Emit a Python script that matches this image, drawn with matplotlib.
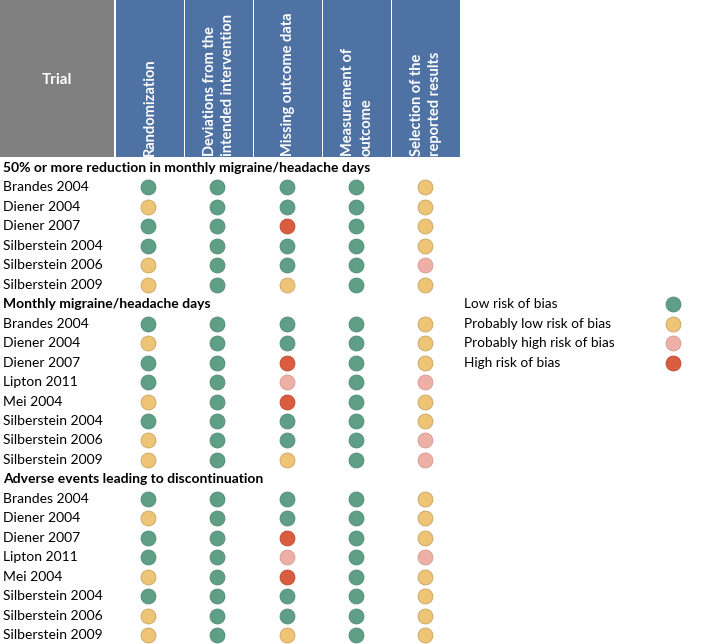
import matplotlib.pyplot as plt
from matplotlib.patches import Rectangle

plt.rcParams['font.family'] = ['Lato', 'DejaVu Sans']

domains = ['Randomization', 'Deviations from the\nintended intervention', 'Missing outcome data',
           'Measurement of\noutcome', 'Selection of the\nreported results']

section_names = ['50% or more reduction in monthly migraine/headache days',
                 'Monthly migraine/headache days',
                 'Adverse events leading to discontinuation']

trials_1 = ['Brandes 2004', 'Diener 2004', 'Diener 2007', 'Silberstein 2004', 'Silberstein 2006', 'Silberstein 2009']
ratings_1 = ['GGGGY', 'YGGGY', 'GGRGY', 'GGGGY', 'YGGGP', 'YGYGY']

trials_2 = ['Brandes 2004', 'Diener 2004', 'Diener 2007', 'Lipton 2011', 'Mei 2004',
            'Silberstein 2004', 'Silberstein 2006', 'Silberstein 2009']
ratings_2 = ['GGGGY', 'YGGGY', 'GGRGY', 'GGPGP', 'YGRGY', 'GGGGY', 'YGGGP', 'YGYGP']

trials_3 = ['Brandes 2004', 'Diener 2004', 'Diener 2007', 'Lipton 2011', 'Mei 2004',
            'Silberstein 2004', 'Silberstein 2006', 'Silberstein 2009']
ratings_3 = ['GGGGY', 'YGGGY', 'GGRGY', 'GGPGP', 'YGRGY', 'GGGGY', 'YGGGY', 'YGYGY']

legend_labels = ['Low risk of bias', 'Probably low risk of bias', 'Probably high risk of bias', 'High risk of bias']
legend_codes = ['G', 'Y', 'P', 'R']

colors = {'G': '#5f9f88', 'Y': '#eec476', 'P': '#eeb0a6', 'R': '#d95d3e'}
edges = {'G': '#4e8a74', 'Y': '#c9a35e', 'P': '#d49a90', 'R': '#b84a30'}

fig = plt.figure(figsize=(7.08, 6.44), dpi=100)
ax = fig.add_axes([0, 0, 1, 1])
ax.set_xlim(0, 708)
ax.set_ylim(644, 0)
ax.axis('off')

# header
ax.add_patch(Rectangle((0, 0), 114, 157, color='#808080', lw=0))
ax.text(57, 80, 'Trial', color='white', fontsize=11, fontweight='bold', ha='center', va='center')
col_left = [116, 185, 254, 323, 392]
col_w = 68
col_x = [148, 217, 287, 356, 425]
for left, label in zip(col_left, domains):
    ax.add_patch(Rectangle((left, 0), col_w, 157, color='#4e72a4', lw=0))
    ax.text(left + col_w / 2, 156, label, color='white', fontsize=10.5, fontweight='bold',
            rotation=90, ha='center', va='bottom', multialignment='left', linespacing=1.45)

# body
y0 = 168
step = 19.46
row = 0
for name, trials, ratings in zip(section_names, [trials_1, trials_2, trials_3], [ratings_1, ratings_2, ratings_3]):
    ax.text(3, y0 + row * step, name, fontsize=10, fontweight='bold', ha='left', va='center')
    row += 1
    for trial, rating in zip(trials, ratings):
        y = y0 + row * step
        ax.text(3, y, trial, fontsize=10, ha='left', va='center')
        for x, code in zip(col_x, rating):
            ax.scatter(x, y, s=115, color=colors[code], edgecolors=edges[code], linewidths=0.6, zorder=3)
        row += 1

# legend
for i, (label, code) in enumerate(zip(legend_labels, legend_codes)):
    y = 304 + i * 19.5
    ax.text(464, y, label, fontsize=9.8, ha='left', va='center')
    ax.scatter(673, y, s=115, color=colors[code], edgecolors=edges[code], linewidths=0.6, zorder=3)

fig.savefig('out.png', dpi=100)
